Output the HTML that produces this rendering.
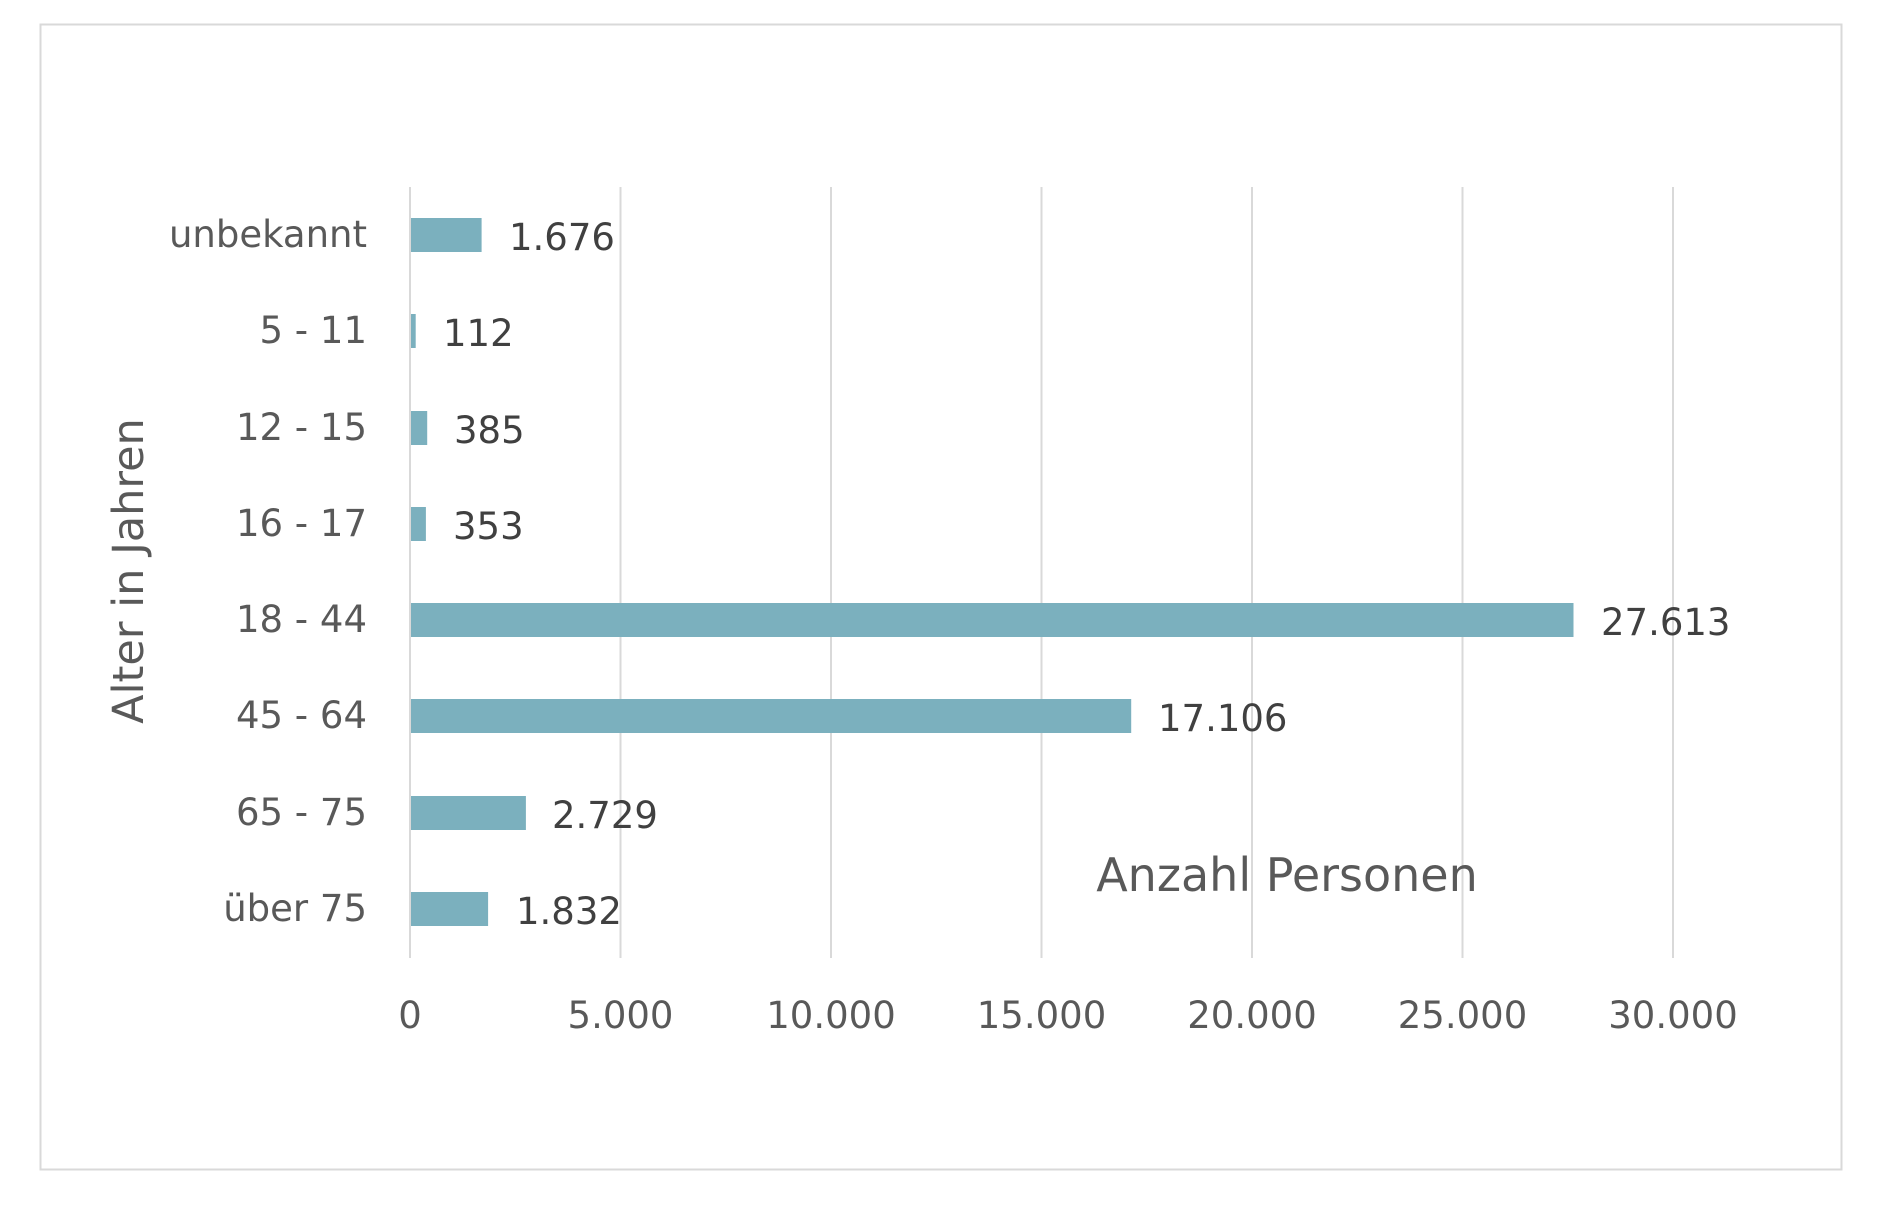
<!DOCTYPE html>
<html><head><meta charset="utf-8"><style>
html,body{margin:0;padding:0;background:#fff;}
svg{display:block;}
text{font-family:"DejaVu Sans","Liberation Sans",sans-serif;}
</style></head><body>
<svg width="1886" height="1210" viewBox="0 0 1886 1210" xmlns="http://www.w3.org/2000/svg">
<rect x="0" y="0" width="1886" height="1210" fill="#fff"/>
<rect x="40.5" y="24.5" width="1801" height="1145" fill="none" stroke="#d9d9d9" stroke-width="2"/>
<g stroke="#d9d9d9" stroke-width="2">
<line x1="410" y1="187" x2="410" y2="958"/>
<line x1="620.5" y1="187" x2="620.5" y2="958"/>
<line x1="831" y1="187" x2="831" y2="958"/>
<line x1="1041.5" y1="187" x2="1041.5" y2="958"/>
<line x1="1252" y1="187" x2="1252" y2="958"/>
<line x1="1462.5" y1="187" x2="1462.5" y2="958"/>
<line x1="1673" y1="187" x2="1673" y2="958"/>
</g>
<g fill="#7BB0BE">
<rect x="411" y="218" width="70.6" height="34"/>
<rect x="411" y="314" width="4.7" height="34"/>
<rect x="411" y="411" width="16.2" height="34"/>
<rect x="411" y="507" width="14.9" height="34"/>
<rect x="411" y="603" width="1162.5" height="34"/>
<rect x="411" y="699" width="720.2" height="34"/>
<rect x="411" y="796" width="114.9" height="34"/>
<rect x="411" y="892" width="77.1" height="34"/>
</g>
<g font-size="37" fill="#404040">
<text x="509" y="250">1.676</text>
<text x="443" y="346">112</text>
<text x="454" y="443">385</text>
<text x="453" y="539">353</text>
<text x="1601" y="635">27.613</text>
<text x="1158" y="731">17.106</text>
<text x="552" y="828">2.729</text>
<text x="516" y="924">1.832</text>
</g>
<g font-size="37" fill="#595959" text-anchor="end">
<text x="367" y="247">unbekannt</text>
<text x="367" y="343">5 - 11</text>
<text x="367" y="440">12 - 15</text>
<text x="367" y="536">16 - 17</text>
<text x="367" y="632">18 - 44</text>
<text x="367" y="728">45 - 64</text>
<text x="367" y="825">65 - 75</text>
<text x="367" y="921">über 75</text>
</g>
<g font-size="37" fill="#595959" text-anchor="middle">
<text x="410" y="1028">0</text>
<text x="620.5" y="1028">5.000</text>
<text x="831" y="1028">10.000</text>
<text x="1041.5" y="1028">15.000</text>
<text x="1252" y="1028">20.000</text>
<text x="1462.5" y="1028">25.000</text>
<text x="1673" y="1028">30.000</text>
</g>
<text x="0" y="0" font-size="43" fill="#595959" text-anchor="middle" transform="translate(143,571) rotate(-90)">Alter in Jahren</text>
<text x="1287" y="891" font-size="46" fill="#595959" text-anchor="middle">Anzahl Personen</text>
</svg>
</body></html>
